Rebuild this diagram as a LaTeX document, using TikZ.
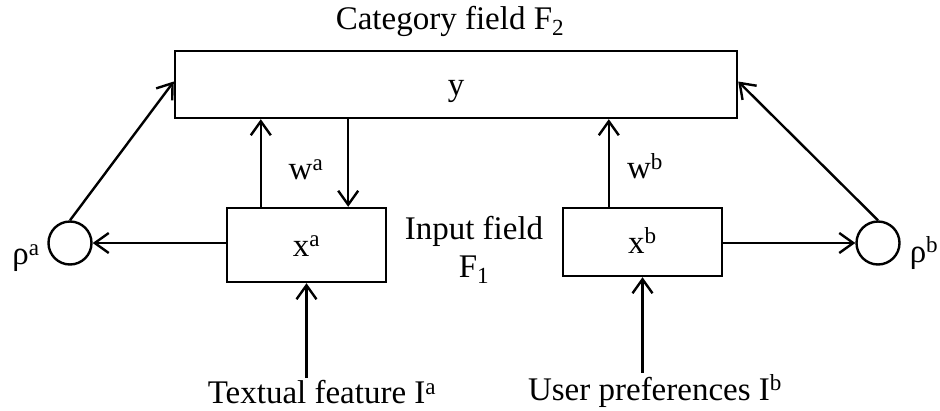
\documentclass[tikz,border=0pt]{standalone}
\usepackage{fontspec}
\setmainfont{Liberation Serif}
\usepackage{tikz}
\usetikzlibrary{positioning, arrows.meta}
\tikzset{
  field/.style  = {rectangle, draw=black, line width=2.4pt, fill=white,
                   inner sep=0pt, text height=22pt, text depth=0pt,
                   font=\fontsize{33}{38}\selectfont},
  gain/.style   = {circle, draw=black, line width=2.4pt, minimum size=43pt,
                   inner sep=0pt},
  lbl/.style    = {inner sep=2pt, align=center, font=\fontsize{33}{38}\selectfont},
  arr/.style    = {-{Straight Barb[length=14pt,width=20pt,line width=2.4pt]},
                   line width=2.4pt, draw=black},
}

\begin{document}
\begin{tikzpicture}[x=1pt, y=-1pt]
  \useasboundingbox (0,0) rectangle (940,410);

  % category field F2
  \node[field, minimum width=562pt, minimum height=67pt] (ybox) at (456,84.5) {y};
  \node[lbl] (catlbl) at (450,21) {Category field F\textsubscript{2}};

  % input field F1
  \node[field, minimum width=159pt, minimum height=74pt] (xa) at (306.5,245) {x\textsuperscript{a}};
  \node[field, minimum width=159pt, minimum height=68pt] (xb) at (642.5,242) {x\textsuperscript{b}};
  \node[lbl] (inlbl) at (474,250) {Input field\\F\textsubscript{1}};

  % vigilance nodes
  \node[gain] (rhoa) at (70,243) {};
  \node[gain] (rhob) at (878,243) {};
  \node[lbl] (rhoalbl) at (26,258) {ρ\textsuperscript{a}};
  \node[lbl] (rhoblbl) at (924,253) {ρ\textsuperscript{b}};

  % inputs
  \node[lbl] (tfa) at (322,392) {Textual feature I\textsuperscript{a}};
  \node[lbl] (upb) at (655,391) {User preferences I\textsuperscript{b}};

  % weights
  \coordinate (waup) at ([xshift=35pt]xa.north west);
  \coordinate (wadn) at ([xshift=-39pt]xa.north east);
  \coordinate (wbup) at ([xshift=47pt]xb.north west);
  \node[lbl] (walbl) at (306,170) {w\textsuperscript{a}};
  \node[lbl] (wblbl) at (645,166) {w\textsuperscript{b}};

  \draw[arr] (waup) -- (waup |- ybox.south);
  \draw[arr] (wadn |- ybox.south) -- (wadn);
  \draw[arr] (wbup) -- (wbup |- ybox.south);

  \draw[arr] (xa.west |- rhoa) -- (rhoa.east);
  \draw[arr] (xb.east |- rhob) -- (rhob.west);
  \draw[arr] (rhoa.north) -- ([yshift=3pt]ybox.west);
  \draw[arr] (rhob.north) -- ([yshift=3pt]ybox.east);

  \draw[arr] (tfa.north -| xa.south) -- (xa.south);
  \draw[arr] (upb.north -| xb.south) -- (xb.south);

\end{tikzpicture}
\end{document}
